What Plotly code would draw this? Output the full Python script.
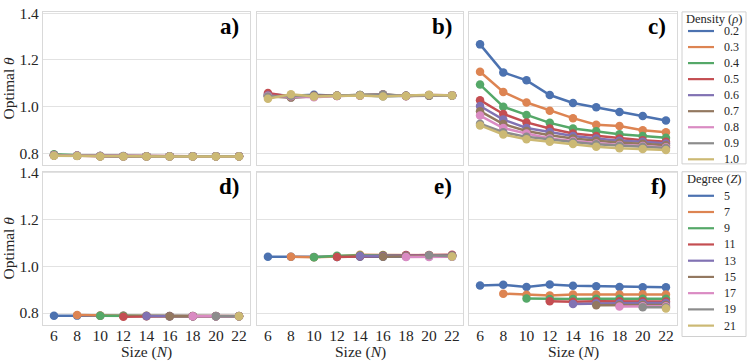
import plotly.graph_objects as go
from plotly.subplots import make_subplots

sizes = [6, 8, 10, 12, 14, 16, 18, 20, 22]
densities = ["0.2", "0.3", "0.4", "0.5", "0.6", "0.7", "0.8", "0.9", "1.0"]
degrees = ["5", "7", "9", "11", "13", "15", "17", "19", "21"]
colors = ["#4C72B0", "#DD8452", "#55A868", "#C44E52", "#8172B3",
          "#937860", "#DA8BC3", "#8C8C8C", "#CCB974"]

# a) optimal theta vs size, one line per density
theta_a = [
    [0.791, 0.789, 0.788, 0.788, 0.787, 0.787, 0.787, 0.787, 0.787],
    [0.790, 0.789, 0.788, 0.787, 0.787, 0.787, 0.787, 0.787, 0.787],
    [0.795, 0.790, 0.788, 0.787, 0.787, 0.787, 0.787, 0.787, 0.787],
    [0.792, 0.789, 0.787, 0.787, 0.787, 0.787, 0.787, 0.787, 0.787],
    [0.791, 0.789, 0.788, 0.787, 0.787, 0.787, 0.787, 0.787, 0.787],
    [0.790, 0.789, 0.787, 0.787, 0.787, 0.787, 0.787, 0.787, 0.787],
    [0.791, 0.790, 0.788, 0.787, 0.787, 0.787, 0.787, 0.787, 0.787],
    [0.790, 0.789, 0.787, 0.787, 0.787, 0.787, 0.787, 0.787, 0.787],
    [0.789, 0.788, 0.786, 0.786, 0.786, 0.786, 0.786, 0.786, 0.786],
]

# b)
theta_b = [
    [1.052, 1.046, 1.050, 1.046, 1.048, 1.044, 1.046, 1.048, 1.047],
    [1.048, 1.044, 1.044, 1.047, 1.046, 1.047, 1.045, 1.047, 1.048],
    [1.046, 1.045, 1.045, 1.046, 1.049, 1.046, 1.046, 1.046, 1.047],
    [1.058, 1.042, 1.046, 1.045, 1.047, 1.048, 1.046, 1.047, 1.047],
    [1.047, 1.040, 1.043, 1.046, 1.048, 1.050, 1.045, 1.048, 1.047],
    [1.044, 1.038, 1.044, 1.046, 1.049, 1.052, 1.045, 1.046, 1.047],
    [1.045, 1.044, 1.040, 1.045, 1.047, 1.050, 1.044, 1.049, 1.048],
    [1.043, 1.046, 1.045, 1.046, 1.048, 1.051, 1.045, 1.048, 1.047],
    [1.033, 1.052, 1.043, 1.046, 1.047, 1.043, 1.045, 1.050, 1.047],
]

# c)
theta_c = [
    [1.266, 1.146, 1.112, 1.049, 1.015, 0.997, 0.976, 0.959, 0.940],
    [1.149, 1.062, 1.017, 0.982, 0.950, 0.922, 0.916, 0.898, 0.890],
    [1.094, 0.999, 0.964, 0.930, 0.906, 0.894, 0.881, 0.874, 0.866],
    [1.027, 0.968, 0.932, 0.906, 0.884, 0.874, 0.863, 0.856, 0.849],
    [1.002, 0.944, 0.908, 0.891, 0.874, 0.863, 0.853, 0.849, 0.842],
    [0.980, 0.925, 0.895, 0.877, 0.863, 0.853, 0.845, 0.840, 0.834],
    [0.961, 0.908, 0.884, 0.863, 0.852, 0.842, 0.835, 0.831, 0.825],
    [0.926, 0.890, 0.870, 0.858, 0.848, 0.838, 0.832, 0.828, 0.822],
    [0.919, 0.880, 0.860, 0.849, 0.839, 0.828, 0.821, 0.818, 0.814],
]
err_c = [
    [0.016, 0.008, 0.007, 0.005, 0.004, 0.004, 0.004, 0.003, 0.003],
    [0.012, 0.007, 0.005, 0.004, 0.004, 0.003, 0.003, 0.003, 0.003],
    [0.010, 0.006, 0.005, 0.004, 0.003, 0.003, 0.003, 0.003, 0.003],
    [0.009, 0.005, 0.004, 0.004, 0.003, 0.003, 0.003, 0.003, 0.002],
    [0.008, 0.005, 0.004, 0.003, 0.003, 0.003, 0.002, 0.002, 0.002],
    [0.007, 0.005, 0.004, 0.003, 0.003, 0.002, 0.002, 0.002, 0.002],
    [0.007, 0.004, 0.003, 0.003, 0.003, 0.002, 0.002, 0.002, 0.002],
    [0.006, 0.004, 0.003, 0.003, 0.002, 0.002, 0.002, 0.002, 0.002],
    [0.006, 0.004, 0.003, 0.003, 0.002, 0.002, 0.002, 0.002, 0.002],
]

# d), e), f) one line per degree Z, starting at N = Z + 1
theta_d = [
    [0.788, 0.789, 0.788, 0.788, 0.787, 0.787, 0.787, 0.787, 0.787],
    [0.792, 0.789, 0.788, 0.788, 0.787, 0.787, 0.787, 0.787],
    [0.788, 0.787, 0.787, 0.786, 0.786, 0.786, 0.786],
    [0.784, 0.786, 0.786, 0.786, 0.786, 0.786],
    [0.787, 0.786, 0.786, 0.786, 0.786],
    [0.786, 0.786, 0.786, 0.786],
    [0.786, 0.786, 0.786],
    [0.786, 0.786],
    [0.786],
]
theta_e = [
    [1.041, 1.041, 1.040, 1.040, 1.041, 1.041, 1.041, 1.041, 1.041],
    [1.041, 1.039, 1.042, 1.050, 1.049, 1.048, 1.048, 1.048],
    [1.039, 1.045, 1.046, 1.047, 1.046, 1.046, 1.046],
    [1.040, 1.043, 1.045, 1.049, 1.049, 1.050],
    [1.044, 1.043, 1.045, 1.045, 1.046],
    [1.041, 1.043, 1.044, 1.045],
    [1.040, 1.040, 1.041],
    [1.048, 1.043],
    [1.042],
]
theta_f = [
    [0.918, 0.921, 0.912, 0.922, 0.917, 0.915, 0.912, 0.910, 0.910],
    [0.883, 0.878, 0.875, 0.879, 0.879, 0.879, 0.881, 0.879],
    [0.862, 0.860, 0.860, 0.861, 0.861, 0.861, 0.861],
    [0.851, 0.848, 0.851, 0.851, 0.851, 0.849],
    [0.839, 0.842, 0.842, 0.843, 0.843],
    [0.833, 0.833, 0.835, 0.835],
    [0.828, 0.829, 0.829],
    [0.825, 0.825],
    [0.820],
]

W, H = 747, 362
FONT = "Liberation Serif, Times New Roman, Times, serif"
TXT = "#262626"
xdom = [(43, 250), (257, 463), (469, 677)]
ydom = [(5, 161), (168, 324)]

fig = make_subplots(rows=2, cols=3)


def add_panel(series, row, col, err=None):
    for i, vals in enumerate(series):
        xs = sizes[len(sizes) - len(vals):]
        ey = None
        if err is not None:
            ey = dict(type="data", array=err[i], color=colors[i], thickness=2.5, width=0)
        fig.add_trace(go.Scatter(
            x=xs, y=vals, mode="lines+markers", showlegend=False,
            line=dict(color=colors[i], width=2.5),
            marker=dict(color=colors[i], size=8.5),
            error_y=ey), row=row, col=col)


add_panel(theta_a, 1, 1)
add_panel(theta_b, 1, 2)
add_panel(theta_c, 1, 3, err_c)
add_panel(theta_d, 2, 1)
add_panel(theta_e, 2, 2)
add_panel(theta_f, 2, 3)

tick_font = dict(family=FONT, size=15.5, color=TXT)
labels = ["a)", "b)", "c)", "d)", "e)", "f)"]
for k in range(6):
    r, c = k // 3, k % 3
    n = "" if k == 0 else str(k + 1)
    x0, x1 = xdom[c]
    y0, y1 = ydom[r]
    fig.layout["xaxis" + n].update(
        domain=[x0 / W, x1 / W], range=[5.05, 22.95], tickvals=sizes,
        showgrid=False, showline=True, mirror=True, linecolor="#d9d9d9",
        linewidth=1.3, zeroline=False, ticks="", showticklabels=(r == 1),
        tickfont=tick_font, ticklabelstandoff=-3)
    fig.layout["yaxis" + n].update(
        domain=[1 - y1 / H, 1 - y0 / H], range=[0.75, 1.405],
        tickvals=[0.8, 1.0, 1.2, 1.4], ticktext=["0.8", "1.0", "1.2", "1.4"],
        showgrid=True, gridcolor="#e2e2e2", gridwidth=1.2,
        showline=True, mirror=True, linecolor="#d9d9d9", linewidth=1.3,
        zeroline=False, ticks="", showticklabels=(c == 0),
        tickfont=tick_font)
    if c == 0:
        fig.layout["yaxis" + n].title = dict(text="Optimal <i>θ</i>", standoff=4,
                                             font=tick_font)
    if r == 1:
        fig.add_annotation(
            x=0.5, y=1 - 352 / H, xref="x" + n + " domain", yref="paper",
            text="Size (<i>N</i>)", showarrow=False,
            xanchor="center", yanchor="middle", font=tick_font)
    fig.add_annotation(
        x=0.955, y=0.905, xref="x" + n + " domain", yref="y" + n + " domain",
        text="<b>" + labels[k] + "</b>", showarrow=False,
        xanchor="right", yanchor="middle",
        font=dict(family=FONT, size=23, color="black"))

# legends, drawn as boxes beside the right column
legends = [("Density (<i>ρ</i>)", densities, 5, 160, 24.5, 16.35),
           ("Degree (<i>Z</i>)", degrees, 168, 336, 192.5, 16.55)]
for title, names, top, bottom, first, step in legends:
    fig.add_shape(type="rect", xref="paper", yref="paper",
                  x0=682 / W, x1=746 / W, y0=1 - bottom / H, y1=1 - top / H,
                  line=dict(color="#d0d0d0", width=1), fillcolor="white")
    fig.add_annotation(x=714 / W, y=1 - (top + 7) / H, xref="paper", yref="paper",
                       text=title, showarrow=False, xanchor="center", yanchor="middle",
                       font=dict(family=FONT, size=12.5, color=TXT))
    for i, name in enumerate(names):
        yy = 1 - (first + i * step) / H
        fig.add_shape(type="line", xref="paper", yref="paper",
                      x0=688 / W, x1=714 / W, y0=yy, y1=yy,
                      line=dict(color=colors[i], width=2.2))
        fig.add_annotation(x=722 / W, y=yy, xref="paper", yref="paper",
                           text=name, showarrow=False, xanchor="left", yanchor="middle",
                           font=dict(family=FONT, size=12, color=TXT))

fig.update_layout(
    width=W, height=H, margin=dict(l=0, r=0, t=0, b=0),
    paper_bgcolor="white", plot_bgcolor="white",
    font=dict(family=FONT, color=TXT))

# drop the page's default body margin so the figure sits at the window corner
fig.write_html("out.html", config={"displayModeBar": False},
               post_script="document.body.style.margin='0';")
